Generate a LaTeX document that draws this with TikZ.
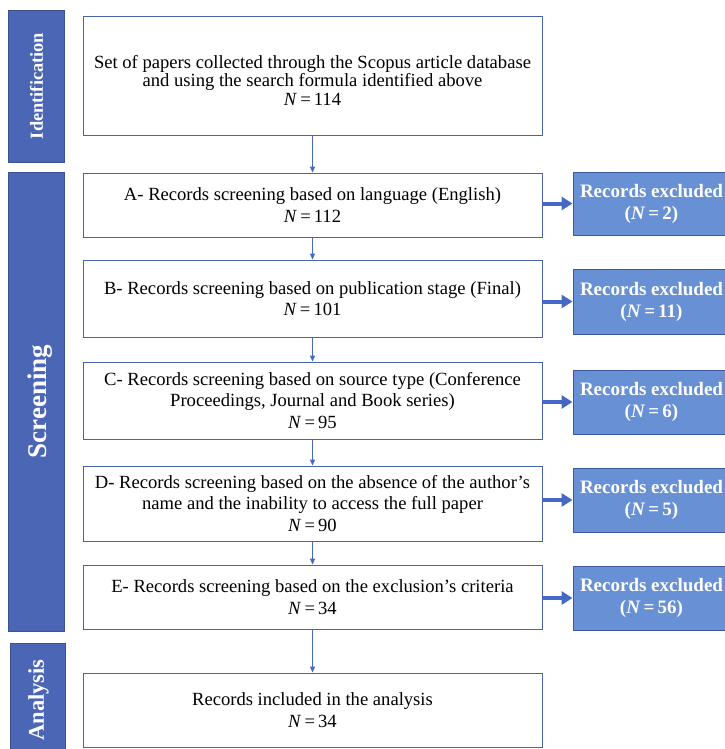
\documentclass[tikz,border=0pt]{standalone}
\usepackage{fontspec}
\setmainfont{Liberation Serif}
\usetikzlibrary{arrows.meta}
\definecolor{barblue}{RGB}{74,102,180}
\definecolor{exblue}{RGB}{104,144,212}
\definecolor{exborder}{RGB}{60,88,160}
\definecolor{boxborder}{RGB}{70,100,170}
\definecolor{arrowblue}{RGB}{68,104,196}
\tikzset{
  mainbox/.style={draw=boxborder, line width=0.9pt, fill=white, minimum width=459pt, align=center, inner sep=1pt,
    font=\fontsize{18.6}{21.5}\selectfont},
  exbox/.style={draw=exborder, line width=0.9pt, fill=exblue, minimum width=157pt, minimum height=64pt, align=center,
    text=white, font=\bfseries\fontsize{19}{22}\selectfont, inner sep=1pt},
  bar/.style={fill=barblue, draw=barblue!80!black, line width=0.5pt, minimum width=56pt, text=white, inner sep=0pt},
  thinarrow/.style={draw=arrowblue, line width=1.2pt, -{Triangle[length=6pt,width=5pt]}},
  thickarrow/.style={draw=arrowblue, line width=4pt, -{Triangle[length=11pt,width=13pt]}},
}
\begin{document}
\begin{tikzpicture}[x=1pt,y=-1pt]
\useasboundingbox (0,0) rectangle (724,749);
\fill[white] (0,0) rectangle (724,749);
% phase bars
\node[bar, minimum height=152pt] (ident) at (36.5,86) {};
\node[rotate=90, text=white, font=\bfseries\fontsize{18.4}{20}\selectfont] (identl) at (ident.center) {Identification};
\node[bar, minimum height=459pt] (scr) at (36.5,401.5) {};
\node[rotate=90, text=white, font=\bfseries\fontsize{27}{30}\selectfont] (scrl) at (40,401.5) {Screening};
\node[bar, minimum height=110pt, minimum width=55pt] (ana) at (37.5,698) {};
\node[rotate=90, text=white, font=\bfseries\fontsize{22.5}{24}\selectfont] (anal) at (38.5,700) {Analysis};
% main boxes
\node[mainbox, minimum height=119pt] (b0) at (312.5,75.5) {};
\node[align=center, inner sep=0pt, font=\fontsize{18.6}{18.5}\selectfont] (b0t) at (312.5,80) {Set of papers collected through the Scopus article database\\and using the search formula identified above\\\textit{N}\,=\,114};
\node[mainbox, minimum height=64pt] (bA) at (312.5,205) {A- Records screening based on language (English)\\\textit{N}\,=\,112};
\node[mainbox, minimum height=77pt] (bB) at (312.5,298.5) {B- Records screening based on publication stage (Final)\\\textit{N}\,=\,101};
\node[mainbox, minimum height=77pt] (bC) at (312.5,400.5) {C- Records screening based on source type (Conference\\Proceedings, Journal and Book series)\\\textit{N}\,=\,95};
\node[mainbox, minimum height=75pt] (bD) at (312.5,503.5) {D- Records screening based on the absence of the author's\\name and the inability to access the full paper\\\textit{N}\,=\,90};
\node[mainbox, minimum height=64pt] (bE) at (312.5,597) {E- Records screening based on the exclusion's criteria\\\textit{N}\,=\,34};
\node[mainbox, minimum height=74pt] (bF) at (312.5,710) {Records included in the analysis\\\textit{N}\,=\,34};
% excluded boxes
\node[exbox, minimum height=63pt] (xA) at (651.5,203.5) {Records excluded\\(\textit{N}\,=\,2)};
\node[exbox, minimum height=65pt] (xB) at (651.5,301.5) {Records excluded\\(\textit{N}\,=\,11)};
\node[exbox] (xC) at (651.5,402) {Records excluded\\(\textit{N}\,=\,6)};
\node[exbox] (xD) at (651.5,500) {Records excluded\\(\textit{N}\,=\,5)};
\node[exbox] (xE) at (651.5,598) {Records excluded\\(\textit{N}\,=\,56)};
% vertical arrows
\draw[thinarrow] (b0.south) -- (bA.north);
\draw[thinarrow] (bA.south) -- (bB.north);
\draw[thinarrow] (bB.south) -- (bC.north);
\draw[thinarrow] (bC.south) -- (bD.north);
\draw[thinarrow] (bD.south) -- (bE.north);
\draw[thinarrow] (bE.south) -- (bF.north);
% exclusion arrows
\foreach \m/\x in {bA/xA, bB/xB, bC/xC, bD/xD, bE/xE}{
  \draw[thickarrow] (\x.west -| \m.east) -- (\x.west);
}
\end{tikzpicture}
\end{document}
